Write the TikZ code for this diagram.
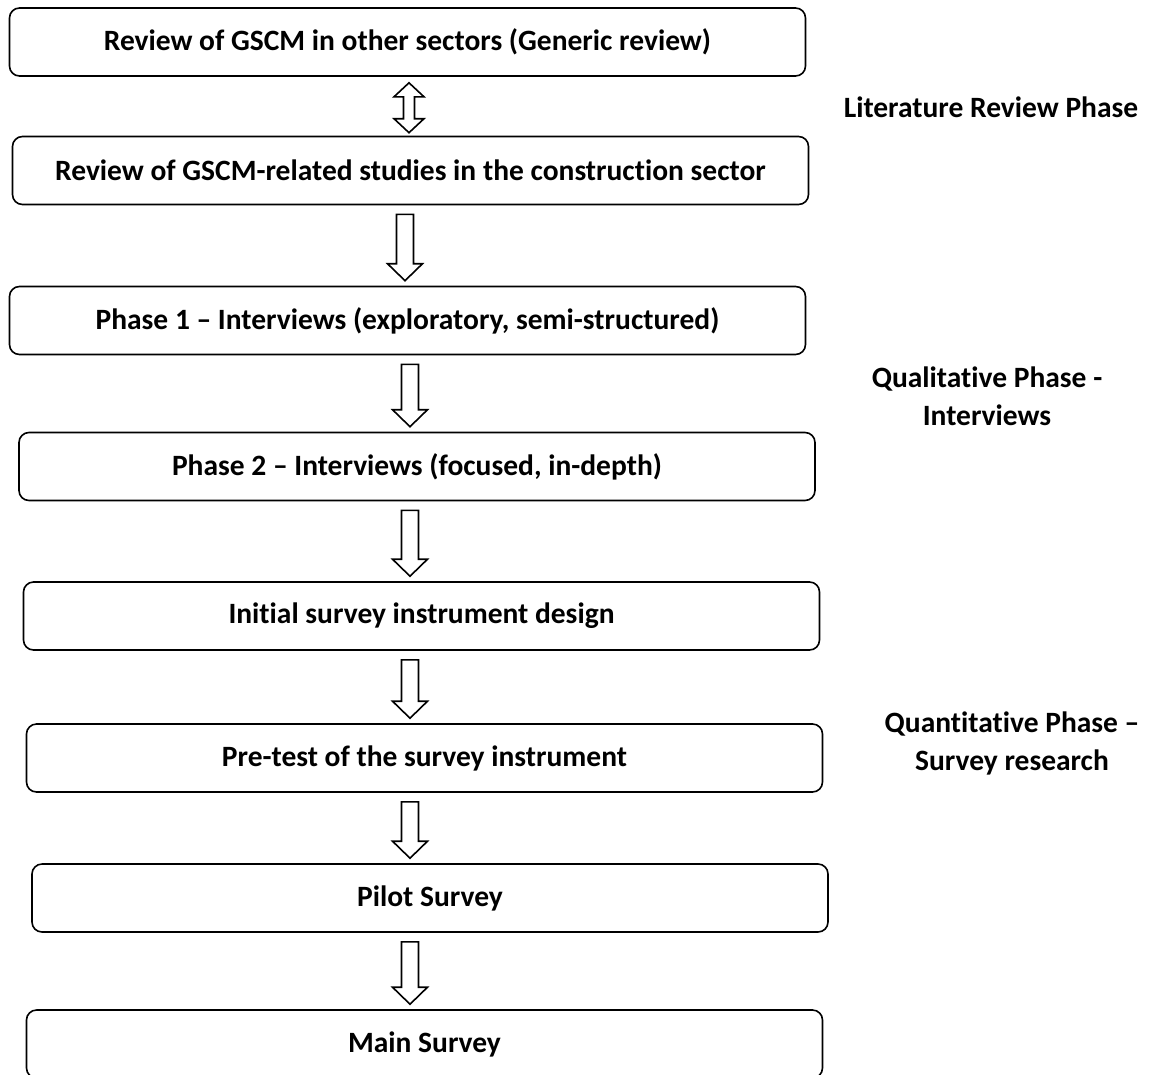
\documentclass[tikz,border=0pt]{standalone}
\usepackage{fontspec}
\setmainfont{Carlito}[Ligatures=NoCommon]
\usepackage{tikz}
\usetikzlibrary{calc}
\tikzset{
  stage/.style={draw, line width=1.6pt, rounded corners=10pt, minimum width=796pt, minimum height=68pt, inner sep=0pt, font=\bfseries\fontsize{29.5}{38}\selectfont},
  phase/.style={align=center, inner sep=0pt, font=\bfseries\fontsize{29.5}{38}\selectfont},
  downarrow/.style={draw, line width=1.6pt, to path={let \p1=(\tikztostart.south), \p2=(\tikztotarget.north) in
    (#1-8.5pt,\y1-9pt) -- (#1+8.5pt,\y1-9pt) -- (#1+8.5pt,\y2+22pt) -- (#1+17.5pt,\y2+22pt) -- (#1,\y2+5pt)
    -- (#1-17.5pt,\y2+22pt) -- (#1-8.5pt,\y2+22pt) -- cycle}},
  botharrow/.style={draw, line width=1.6pt, to path={let \p1=(\tikztostart.south), \p2=(\tikztotarget.north) in
    (#1,\y1-6pt) -- (#1+15pt,\y1-20pt) -- (#1+5.5pt,\y1-20pt) -- (#1+5.5pt,\y2+17pt) -- (#1+15pt,\y2+17pt) -- (#1,\y2+3pt)
    -- (#1-15pt,\y2+17pt) -- (#1-5.5pt,\y2+17pt) -- (#1-5.5pt,\y1-20pt) -- (#1-15pt,\y1-20pt) -- cycle}}
}

\begin{document}
\begin{tikzpicture}[x=1pt,y=-1pt]
\useasboundingbox (0,0) rectangle (1150,1074);
\node[stage] (generic) at (407.5,42) {Review of GSCM in other sectors (Generic review)};
\node[stage] (construction) at (410.5,170.5) {Review of GSCM-related studies in the construction sector};
\node[stage] (phaseone) at (407.5,320.5) {Phase 1 -- Interviews (exploratory, semi-structured)};
\node[stage] (phasetwo) at (417,466.5) {Phase 2 -- Interviews (focused, in-depth)};
\node[stage] (design) at (421.5,616) {Initial survey instrument design};
\node[stage] (pretest) at (424.5,758) {Pre-test of the survey instrument};
\node[stage] (pilot) at (430,898) {Pilot Survey};
\node[stage] (mainsurvey) at (424.5,1044) {Main Survey};

\draw[botharrow=409pt] (generic) to (construction);
\draw[downarrow=405pt] (construction) to (phaseone);
\draw[downarrow=410pt] (phaseone) to (phasetwo);
\draw[downarrow=410pt] (phasetwo) to (design);
\draw[downarrow=410pt] (design) to (pretest);
\draw[downarrow=410pt] (pretest) to (pilot);
\draw[downarrow=410pt] (pilot) to (mainsurvey);

\node[phase] (litphase) at (991,107) {Literature Review Phase};
\node[phase] (qualphase) at (987,396) {Qualitative Phase -\\Interviews};
\node[phase] (quantphase) at (1012,743) {Quantitative Phase --\\Survey research};
\end{tikzpicture}
\end{document}
